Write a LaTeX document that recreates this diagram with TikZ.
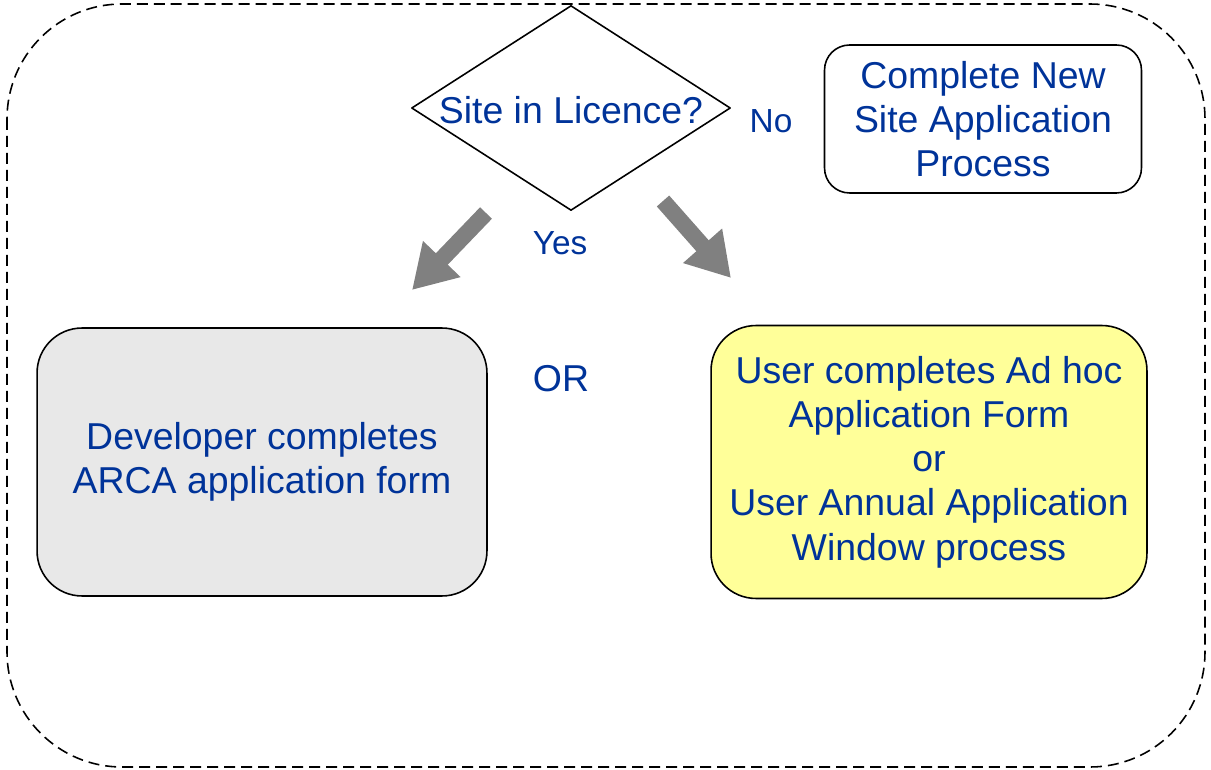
\documentclass[tikz,border=0pt]{standalone}
\usepackage{fontspec}
\setmainfont{Liberation Sans}
\usetikzlibrary{shapes.geometric,arrows.meta}
\definecolor{txtblue}{HTML}{003399}
\definecolor{boxyellow}{HTML}{FFFF99}
\definecolor{boxgrey}{HTML}{E8E8E8}
\definecolor{arrgrey}{HTML}{808080}
\begin{document}
\begin{tikzpicture}[x=0.02cm,y=-0.02cm,line join=round,
  font=\fontsize{21.3}{25.2}\selectfont,
  box/.style={draw,line width=0.9pt,align=center,text=txtblue,inner sep=0pt},
  fatarrow/.style={arrgrey,line width=0.33cm,-{Triangle[length=0.86cm,width=0.98cm]}}]
 \useasboundingbox (0,0) rectangle (1211,770);
 % frame
 \draw[line width=0.9pt,dash pattern=on 0.22cm off 0.12cm,rounded corners=2.3cm] (7,4) rectangle (1205,767);
 % question and answers
 \node[box,diamond,minimum width=6.38cm,minimum height=4.1cm] (q) at (571,108) {};
 \node[text=txtblue] (qtext) at (571,110) {Site in Licence?};
 \node[box,rounded corners=0.5cm,minimum width=6.34cm,minimum height=2.96cm] (newsite) at (983,119) {Complete New\\Site Application\\Process};
 \node[box,rounded corners=0.9cm,fill=boxgrey,minimum width=9cm,minimum height=5.36cm] (dev) at (262,462) {Developer completes\\ARCA application form};
 \node[box,rounded corners=0.9cm,fill=boxyellow,minimum width=8.72cm,minimum height=5.46cm] (user) at (929,462) {User completes Ad hoc\\Application Form\\or\\User Annual Application\\Window process};
 \path[text=txtblue]
 (771,121) node[font=\fontsize{19}{22}\selectfont] (no) {No}
 (560,243) node[font=\fontsize{19}{22}\selectfont] (yes) {Yes}
 (561,379) node (or) {OR};
 % arrows
 \coordinate (lfrom) at (486,213);
 \coordinate (lto) at (412,290);
 \coordinate (rfrom) at (663,201);
 \coordinate (rto) at (731,278);
 \draw[fatarrow] (lfrom) -- (lto);
 \draw[fatarrow] (rfrom) -- (rto);
\end{tikzpicture}
\end{document}
